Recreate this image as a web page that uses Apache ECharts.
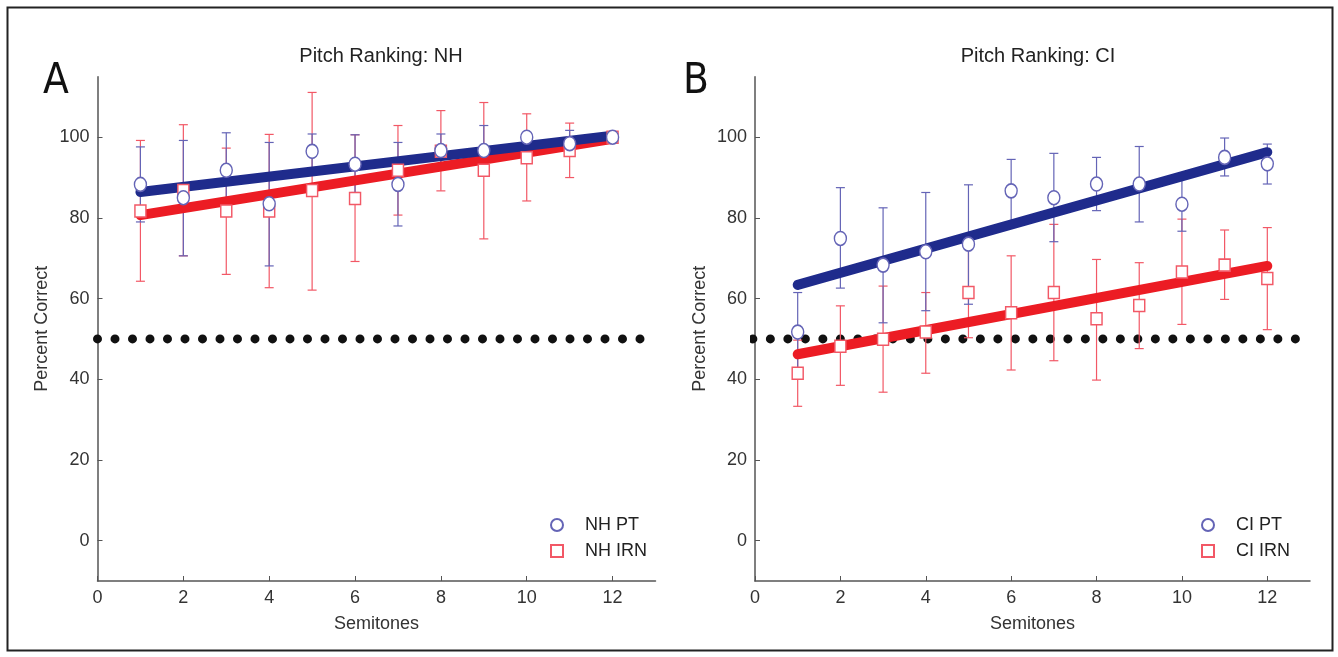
<!DOCTYPE html>
<html>
<head>
<meta charset="utf-8">
<script src="https://cdn.jsdelivr.net/npm/echarts@6/dist/echarts.min.js"></script>
<style>
  html, body { margin: 0; padding: 0; background: #fff; }
  #main { width: 1338px; height: 657px; }
</style>
</head>
<body>
<div id="main"></div>
<script>
// semitone steps on the x axis
var semitones = [1, 2, 3, 4, 5, 6, 7, 8, 9, 10, 11, 12];
var xTicks = [0, 2, 4, 6, 8, 10, 12];
var yTicks = [0, 20, 40, 60, 80, 100];

// panel A : NH listeners
var nhPtMean  = [88.3, 85.0, 91.8, 83.5, 96.5, 93.3, 88.3, 96.7, 96.7, 100, 98.4, 100];
var nhPtLow   = [79.0, 70.6, 82.3, 68.1, 92.2, 86.3, 78.0, 92.6, 90.5, 100, 95.5, 100];
var nhPtHigh  = [97.6, 99.2, 101.1, 98.7, 100.8, 100.6, 98.7, 100.8, 102.9, 100, 101.7, 100];
var nhIrnMean = [81.7, 86.8, 81.7, 81.7, 86.8, 84.8, 91.8, 96.5, 91.8, 94.9, 96.7, 100];
var nhIrnLow  = [64.3, 70.6, 66.0, 62.7, 62.1, 69.2, 80.7, 86.7, 74.8, 84.2, 90.0, 100];
var nhIrnHigh = [99.2, 103.1, 97.3, 100.7, 111.1, 100.6, 102.9, 106.6, 108.6, 105.8, 103.5, 100];
var nhPtFit   = [86.4, 100.4];   // fit line at semitone 1 and 12
var nhIrnFit  = [80.7, 99.6];

// panel B : CI listeners
var ciPtMean  = [51.7, 74.9, 68.3, 71.6, 73.5, 86.7, 85.0, 88.4, 88.4, 83.4, 95.0, 93.4];
var ciPtLow   = [41.8, 62.6, 54.0, 57.0, 58.6, 79.0, 74.1, 81.8, 79.0, 76.7, 90.4, 88.4];
var ciPtHigh  = [61.5, 87.5, 82.5, 86.3, 88.2, 94.5, 96.0, 95.0, 97.7, 90.1, 99.8, 98.3];
var ciIrnMean = [41.5, 48.2, 49.9, 51.7, 61.5, 56.5, 61.5, 55.0, 58.3, 66.6, 68.3, 65.0];
var ciIrnLow  = [33.3, 38.5, 36.8, 41.5, 50.3, 42.3, 44.6, 39.8, 47.6, 53.6, 59.8, 52.3];
var ciIrnHigh = [49.7, 58.2, 63.1, 61.5, 72.7, 70.6, 78.4, 69.7, 68.9, 79.7, 77.0, 77.6];
var ciPtFit   = [63.4, 96.3];
var ciIrnFit  = [46.2, 68.1];

// chance level (dotted line)
var chance = 50;
var chanceSpanA = [0, 12.65];
var chanceSpanB = [-0.05, 12.67];

var BLUE = '#1f2b8c', RED = '#ec1c24';
var BLUE_THIN = '#6464b6', RED_THIN = '#f25866';
var FONT = "'Liberation Sans', Arial, sans-serif";
var SQUARE = 'path://M0,0L10,0L10,10L0,10Z';

function pairs(xs, ys) {
  return xs.map(function (x, i) { return [x, ys[i]]; });
}
function bars(xs, lo, hi) {
  return xs.map(function (x, i) { return [x, lo[i], hi[i]]; });
}

function errRender(params, api) {
  var x = api.value(0);
  var pLo = api.coord([x, api.value(1)]);
  var pHi = api.coord([x, api.value(2)]);
  if (Math.abs(pLo[1] - pHi[1]) < 0.5) return null;
  var w = 4.5;
  var st = { stroke: api.visual('color'), lineWidth: 1.2, fill: null };
  return {
    type: 'group',
    children: [
      { type: 'line', shape: { x1: pLo[0], y1: pLo[1], x2: pHi[0], y2: pHi[1] }, style: st },
      { type: 'line', shape: { x1: pLo[0] - w, y1: pLo[1], x2: pLo[0] + w, y2: pLo[1] }, style: st },
      { type: 'line', shape: { x1: pHi[0] - w, y1: pHi[1], x2: pHi[0] + w, y2: pHi[1] }, style: st }
    ]
  };
}

function xAxisFor(idx) {
  return {
    gridIndex: idx, type: 'value', min: 0, max: 13,
    name: 'Semitones', nameLocation: 'middle', nameGap: 34,
    nameTextStyle: { fontFamily: FONT, fontSize: 18, color: '#333' },
    axisLine: { onZero: false, lineStyle: { color: '#555', width: 1.5 } },
    axisTick: { inside: true, length: 5, customValues: xTicks, lineStyle: { color: '#555' } },
    axisLabel: { customValues: xTicks, fontFamily: FONT, fontSize: 18, color: '#333', margin: 8 },
    splitLine: { show: false }
  };
}
function yAxisFor(idx) {
  return {
    gridIndex: idx, type: 'value', min: -10, max: 115,
    name: 'Percent Correct', nameLocation: 'middle', nameGap: 46,
    nameTextStyle: { fontFamily: FONT, fontSize: 18, color: '#333' },
    axisLine: { show: true, onZero: false, lineStyle: { color: '#555', width: 1.5 } },
    axisTick: { show: true, inside: true, length: 5, customValues: yTicks, lineStyle: { color: '#555' } },
    axisLabel: { customValues: yTicks, fontFamily: FONT, fontSize: 18, color: '#333', margin: 8 },
    splitLine: { show: false }
  };
}

function panelSeries(idx, names, ptMean, ptLow, ptHigh, irnMean, irnLow, irnHigh, ptFit, irnFit, span) {
  var ax = { xAxisIndex: idx, yAxisIndex: idx };
  return [
    Object.assign({
      type: 'line', data: [[span[0], chance], [span[1], chance]], symbol: 'none', silent: true,
      lineStyle: { color: '#111', width: 9, type: [0, 17.5], cap: 'round' }, z: 1
    }, ax),
    Object.assign({
      type: 'custom', renderItem: errRender, data: bars(semitones, irnLow, irnHigh),
      encode: { x: 0, y: [1, 2] }, itemStyle: { color: RED_THIN }, z: 2
    }, ax),
    Object.assign({
      type: 'custom', renderItem: errRender, data: bars(semitones, ptLow, ptHigh),
      encode: { x: 0, y: [1, 2] }, itemStyle: { color: BLUE_THIN }, z: 2
    }, ax),
    Object.assign({
      type: 'line', data: pairs([1, 12], irnFit), symbol: 'none',
      lineStyle: { color: RED, width: 10, cap: 'round' }, z: 3
    }, ax),
    Object.assign({
      type: 'line', data: pairs([1, 12], ptFit), symbol: 'none',
      lineStyle: { color: BLUE, width: 10, cap: 'round' }, z: 3
    }, ax),
    Object.assign({
      name: names[1], type: 'scatter', data: pairs(semitones, irnMean),
      symbol: 'rect', symbolSize: [11, 12],
      itemStyle: { color: '#fff', borderColor: RED_THIN, borderWidth: 1.5, opacity: 1 }, z: 4
    }, ax),
    Object.assign({
      name: names[0], type: 'scatter', data: pairs(semitones, ptMean),
      symbol: 'circle', symbolSize: [12, 14],
      itemStyle: { color: '#fff', borderColor: BLUE_THIN, borderWidth: 1.5, opacity: 1 }, z: 5
    }, ax)
  ];
}

function legendFor(left, names) {
  return {
    orient: 'vertical', left: left, top: 511, itemGap: 8,
    itemWidth: 46, itemHeight: 12, selectedMode: false, symbolKeepAspect: true,
    data: [
      { name: names[0], icon: 'circle' },
      { name: names[1], icon: SQUARE }
    ],
    textStyle: { fontFamily: FONT, fontSize: 18, color: '#222' }
  };
}

var chart = echarts.init(document.getElementById('main'));
chart.setOption({
  animation: false,
  backgroundColor: '#fff',
  title: [
    { text: 'Pitch Ranking: NH', left: 376, top: 41, textAlign: 'center',
      textStyle: { fontFamily: FONT, fontSize: 20, fontWeight: 'normal', color: '#222' } },
    { text: 'Pitch Ranking: CI', left: 1033, top: 41, textAlign: 'center',
      textStyle: { fontFamily: FONT, fontSize: 20, fontWeight: 'normal', color: '#222' } },
    { text: 'A', left: 38, top: 56,
      textStyle: { fontFamily: "'Liberation Sans Narrow', 'DejaVu Sans Condensed', sans-serif", fontSize: 42, fontWeight: 'normal', color: '#111' } },
    { text: 'B', left: 678, top: 56,
      textStyle: { fontFamily: "'Liberation Sans Narrow', 'DejaVu Sans Condensed', sans-serif", fontSize: 42, fontWeight: 'normal', color: '#111' } }
  ],
  legend: [
    legendFor(545, ['NH PT', 'NH IRN']),
    legendFor(1196, ['CI PT', 'CI IRN'])
  ],
  grid: [
    { left: 97.5, top: 76.7, width: 558, height: 504.3 },
    { left: 755, top: 76.7, width: 555, height: 504.3 }
  ],
  xAxis: [xAxisFor(0), xAxisFor(1)],
  yAxis: [yAxisFor(0), yAxisFor(1)],
  graphic: [
    { type: 'rect', shape: { x: 7.5, y: 7.5, width: 1325, height: 643 },
      style: { fill: null, stroke: '#222', lineWidth: 2 }, silent: true, z: 0 }
  ],
  series: []
    .concat(panelSeries(0, ['NH PT', 'NH IRN'], nhPtMean, nhPtLow, nhPtHigh,
      nhIrnMean, nhIrnLow, nhIrnHigh, nhPtFit, nhIrnFit, chanceSpanA))
    .concat(panelSeries(1, ['CI PT', 'CI IRN'], ciPtMean, ciPtLow, ciPtHigh,
      ciIrnMean, ciIrnLow, ciIrnHigh, ciPtFit, ciIrnFit, chanceSpanB))
});
</script>
</body>
</html>
